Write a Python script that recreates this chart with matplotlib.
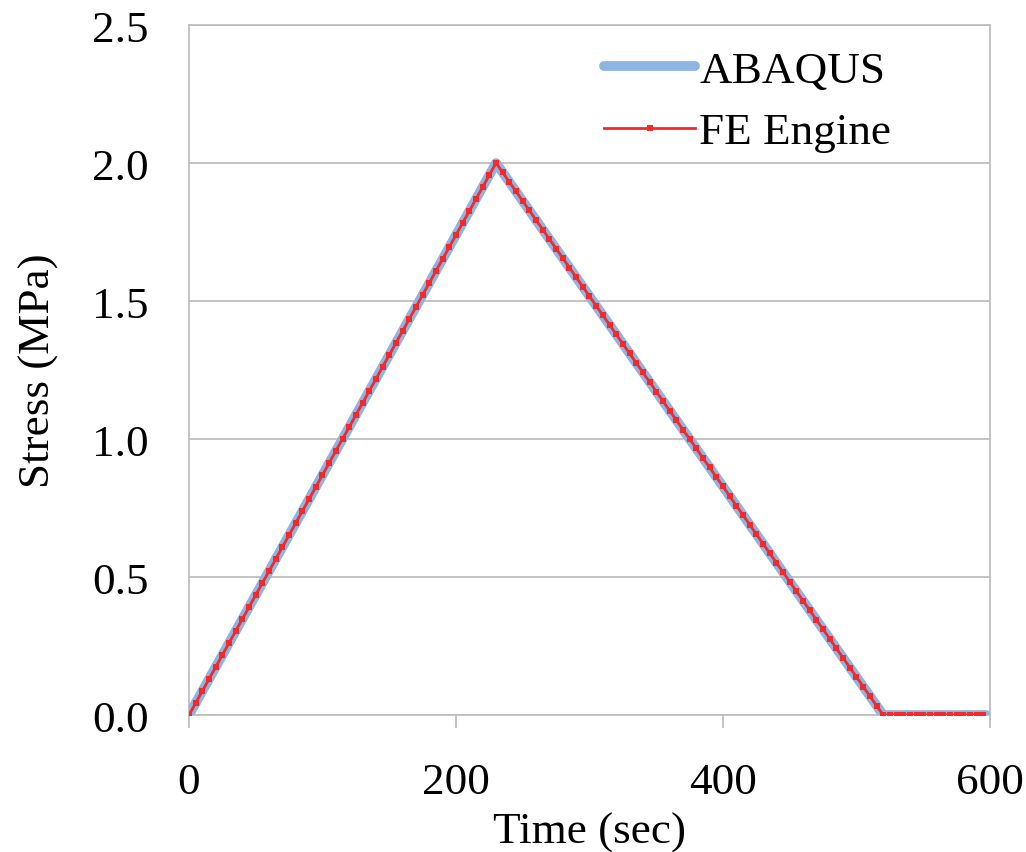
import matplotlib.pyplot as plt

# FE Engine output, sampled every 5 sec
time_fe = list(range(0, 600, 5))
stress_fe = [
    0.000, 0.043, 0.087, 0.130, 0.174, 0.217, 0.261, 0.304, 0.348, 0.391,
    0.435, 0.478, 0.522, 0.565, 0.609, 0.652, 0.696, 0.739, 0.783, 0.826,
    0.870, 0.913, 0.957, 1.000, 1.043, 1.087, 1.130, 1.174, 1.217, 1.261,
    1.304, 1.348, 1.391, 1.435, 1.478, 1.522, 1.565, 1.609, 1.652, 1.696,
    1.739, 1.783, 1.826, 1.870, 1.913, 1.957, 2.000,
    1.966, 1.931, 1.897, 1.862, 1.828, 1.793, 1.759, 1.724, 1.690, 1.655,
    1.621, 1.586, 1.552, 1.517, 1.483, 1.448, 1.414, 1.379, 1.345, 1.310,
    1.276, 1.241, 1.207, 1.172, 1.138, 1.103, 1.069, 1.034, 1.000, 0.966,
    0.931, 0.897, 0.862, 0.828, 0.793, 0.759, 0.724, 0.690, 0.655, 0.621,
    0.586, 0.552, 0.517, 0.483, 0.448, 0.414, 0.379, 0.345, 0.310, 0.276,
    0.241, 0.207, 0.172, 0.138, 0.103, 0.069, 0.034, 0.000,
    0.0, 0.0, 0.0, 0.0, 0.0, 0.0, 0.0, 0.0, 0.0, 0.0, 0.0, 0.0, 0.0, 0.0, 0.0,
]

# ABAQUS load path (piecewise linear)
time_abq = [0, 230, 520, 597]
stress_abq = [0.0, 2.0, 0.0, 0.0]

x_ticks = [0, 200, 400, 600]
y_ticks = [0.0, 0.5, 1.0, 1.5, 2.0, 2.5]

plt.rcParams["font.family"] = ["Liberation Serif", "DejaVu Serif"]
grey = "#BEBEBE"
fs = 32.5

fig = plt.figure(figsize=(10.26, 8.53), dpi=100)
ax = fig.add_axes([0.1842, 0.1606, 0.7807, 0.8089])

ax.plot(time_abq, stress_abq, color="#8DB4E2", linewidth=7,
        solid_capstyle="round", label="ABAQUS", zorder=3)
ax.plot(time_fe, stress_fe, color="#F22A2A", linewidth=2.0,
        marker="s", markersize=4.5, markeredgewidth=0, label="FE Engine", zorder=4)

ax.set_xlim(0, 600)
ax.set_ylim(0, 2.5)
ax.set_xticks(x_ticks)
ax.set_yticks(y_ticks)
ax.set_yticklabels([f"{v:.1f}" for v in y_ticks])

ax.yaxis.grid(True, color=grey, linewidth=1.3)
ax.set_axisbelow(True)
for s in ax.spines.values():
    s.set_color(grey)
    s.set_linewidth(1.3)

ax.tick_params(axis="x", direction="out", length=9, width=1.3, color=grey,
               labelsize=fs, pad=25)
ax.tick_params(axis="y", length=0, labelsize=fs, pad=29)

ax.set_xlabel("Time (sec)", fontsize=fs, labelpad=7)
ax.set_ylabel("Stress (MPa)", fontsize=fs, labelpad=24)

ax.legend(loc="upper left", bbox_to_anchor=(0.468, 1.022), frameon=False,
          fontsize=fs, handlelength=2.0, handletextpad=0.1, labelspacing=0.46)

fig.savefig("out.png", dpi=100)
